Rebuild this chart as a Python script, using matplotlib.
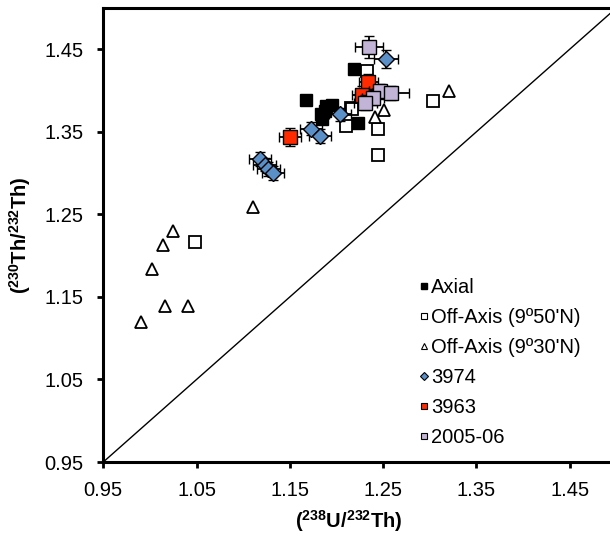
import numpy as np
import matplotlib.pyplot as plt
from matplotlib.lines import Line2D

# --- data ---
axial_x = [1.219, 1.167, 1.189, 1.195, 1.188, 1.184, 1.223, 1.226, 1.183]
axial_y = [1.426, 1.389, 1.381, 1.383, 1.375, 1.365, 1.361, 1.392, 1.372]

off950_x = [1.233, 1.216, 1.217, 1.210, 1.244, 1.244, 1.303, 1.048]
off950_y = [1.424, 1.379, 1.378, 1.357, 1.353, 1.322, 1.387, 1.217]

off930_x = [1.025, 1.014, 1.002, 1.016, 1.041, 0.990, 1.111, 1.251, 1.241, 1.321]
off930_y = [1.230, 1.213, 1.184, 1.139, 1.139, 1.119, 1.259, 1.377, 1.368, 1.400]

d3974_x = [1.253, 1.204, 1.173, 1.182, 1.118, 1.123, 1.127, 1.132]
d3974_y = [1.438, 1.371, 1.354, 1.345, 1.317, 1.310, 1.305, 1.300]
d3974_xerr = [0.013, 0.012, 0.012, 0.012, 0.012, 0.012, 0.012, 0.012]
d3974_yerr = [0.011, 0.008, 0.008, 0.008, 0.008, 0.008, 0.008, 0.008]

d3963_x = [1.234, 1.227, 1.150]
d3963_y = [1.410, 1.395, 1.344]
d3963_xerr = [0.010, 0.010, 0.012]
d3963_yerr = [0.010, 0.010, 0.011]

d2005_x = [1.235, 1.247, 1.258, 1.239, 1.231]
d2005_y = [1.453, 1.399, 1.397, 1.391, 1.385]
d2005_xerr = [0.015, 0.012, 0.020, 0.012, 0.012]
d2005_yerr = [0.013, 0.009, 0.009, 0.009, 0.009]

xlim = (0.95, 1.50)
ylim = (0.95, 1.50)
ticks = [0.95, 1.05, 1.15, 1.25, 1.35, 1.45]

blue = '#5b8fc8'
red = '#ff2a00'
lilac = '#c2b4d6'

plt.rcParams['font.family'] = ['Liberation Sans', 'DejaVu Sans']
plt.rcParams['mathtext.fontset'] = 'custom'
plt.rcParams['mathtext.rm'] = 'Liberation Sans'
plt.rcParams['mathtext.bf'] = 'Liberation Sans:bold'

fig = plt.figure(figsize=(6.10, 5.38), dpi=100)
ax = fig.add_axes([103.3 / 610, 76 / 538, 513 / 610, 454 / 538])

# 1:1 line
ax.plot(xlim, ylim, color='black', lw=1.0, zorder=1)

ax.plot(axial_x, axial_y, 's', ms=9, mfc='black', mec='black', zorder=3)
ax.plot(off950_x, off950_y, 's', ms=9, mfc='white', mec='black', mew=1.3, zorder=3)
ax.plot(off930_x, off930_y, '^', ms=9, mfc='white', mec='black', mew=1.3, zorder=3)

err_kw = dict(ecolor='black', elinewidth=1.3, capsize=3.5, capthick=1.3, mec='black', mew=1.0)
ax.errorbar(d3974_x, d3974_y, xerr=d3974_xerr, yerr=d3974_yerr, fmt='D', ms=8.5,
            mfc=blue, zorder=4, **err_kw)
ax.errorbar(d3963_x, d3963_y, xerr=d3963_xerr, yerr=d3963_yerr, fmt='s', ms=10,
            mfc=red, zorder=5, **err_kw)
ax.errorbar(d2005_x, d2005_y, xerr=d2005_xerr, yerr=d2005_yerr, fmt='s', ms=10,
            mfc=lilac, zorder=6, **err_kw)

ax.set_xlim(xlim)
ax.set_ylim(ylim)
ax.set_xticks(ticks)
ax.set_yticks(ticks)
ax.set_xticklabels([f'{t:.2f}' for t in ticks])
ax.set_yticklabels([f'{t:.2f}' for t in ticks])
ax.tick_params(direction='out', length=4, width=2, labelsize=14.5, pad=10)
for s in ['left', 'bottom', 'top']:
    ax.spines[s].set_linewidth(2.2)
ax.spines['right'].set_visible(False)

ax.set_xlabel(r'$\mathbf{(^{238}U/^{232}Th)}$', fontsize=14.5)
ax.set_ylabel(r'$\mathbf{(^{230}Th/^{232}Th)}$', fontsize=14.5)
ax.xaxis.set_label_coords(0.479, -0.102)
ax.yaxis.set_label_coords(-0.137, 0.5)

handles = [
    Line2D([], [], ls='none', marker='s', ms=5, mfc='black', mec='black'),
    Line2D([], [], ls='none', marker='s', ms=5, mfc='white', mec='black', mew=0.8),
    Line2D([], [], ls='none', marker='^', ms=5, mfc='white', mec='black', mew=0.8),
    Line2D([], [], ls='none', marker='D', ms=4.5, mfc=blue, mec='black', mew=0.8),
    Line2D([], [], ls='none', marker='s', ms=5, mfc=red, mec='black', mew=0.8),
    Line2D([], [], ls='none', marker='s', ms=5, mfc=lilac, mec='black', mew=0.8),
]
labels = ['Axial', "Off-Axis (9º50'N)", "Off-Axis (9º30'N)", '3974', '3963', '2005-06']
fig.legend(handles, labels, loc='upper left', bbox_to_anchor=(418 / 610, 1 - 278 / 538),
           frameon=False, fontsize=14.5, handlelength=0.6, handletextpad=0.05,
           labelspacing=0.55, borderpad=0, borderaxespad=0)

fig.savefig('out.png', dpi=100)
